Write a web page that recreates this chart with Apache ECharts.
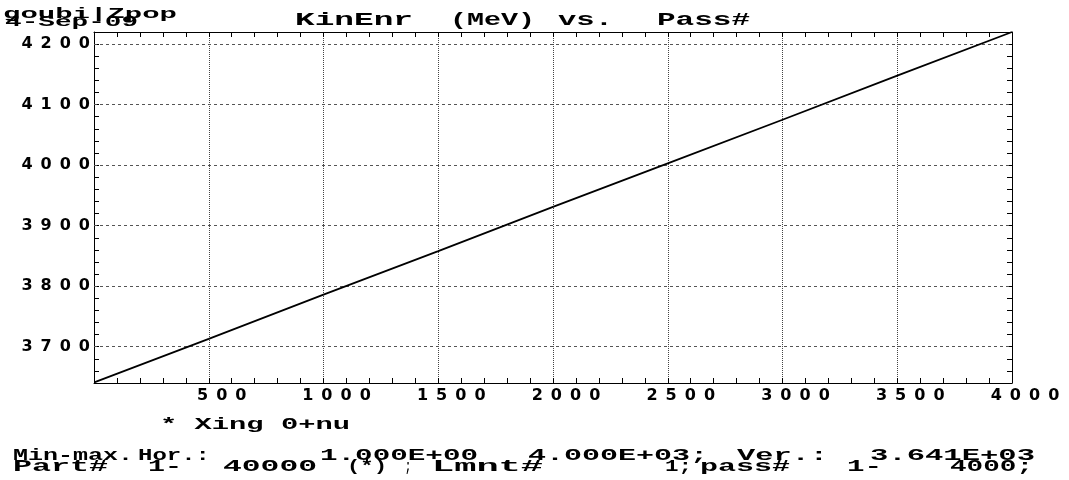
<!DOCTYPE html>
<html>
<head>
<meta charset="utf-8">
<script src="https://cdn.jsdelivr.net/npm/echarts@6/dist/echarts.min.js"></script>
<style>
  html, body { margin: 0; padding: 0; background: #fff; }
  #chart { width: 1069px; height: 480px; }
</style>
</head>
<body>
<div id="chart"></div>
<script>
// pass number vs kinetic energy (MeV)
const passes = [1, 500, 1000, 1500, 2000, 2500, 3000, 3500, 4000];
const kinEnr = [3641, 3713, 3786, 3858, 3931, 4003, 4075, 4148, 4220];
// major horizontal grid values
const yGrid = [3700, 3800, 3900, 4000, 4100, 4200];

const MONO = '"Liberation Mono", "Courier New", monospace';
const GAP = '\u2002';

// spread digits apart, the plot uses a very wide face
function spaced(v) {
    return String(v).split('').join(GAP);
}

// measure text so it can be stretched to the width seen in the plot
let ctx = document.createElement('canvas').getContext('2d');
function wideText(text, x0, x1, yc, size) {
    let font = 'bold ' + size + 'px ' + MONO;
    ctx.font = font;
    let w = ctx.measureText(text).width;
    return {
        type: 'text',
        x: x0,
        y: yc,
        scaleX: (x1 - x0) / w,
        silent: true,
        style: {
            text: text,
            font: font,
            fill: '#000',
            textAlign: 'left',
            textVerticalAlign: 'middle'
        }
    };
}

let notes = [
    ['goubi|Zpop', 3, 177, 14, 15],
    ['4-Sep-09', 5, 138, 22, 15],
    ['KinEnr', 295, 413, 20, 19],
    ['(MeV)', 450, 535, 20, 19],
    ['vs.', 558, 613, 20, 19],
    ['Pass#', 657, 750, 20, 19],
    ['* Xing 0+nu', 160, 350, 425, 16],
    ['Min-max.', 13, 133, 456, 16],
    ['Hor.:', 138, 210, 456, 16],
    ['1.000E+00', 320, 478, 456, 16],
    ['4.000E+03;', 528, 708, 456, 16],
    ['Ver.:', 737, 828, 456, 16],
    ['3.641E+03', 870, 1035, 456, 16],
    ['Part#', 13, 108, 467, 16],
    ['1-', 148, 182, 467, 16],
    ['40000', 223, 317, 467, 16],
    ['(*)', 347, 387, 467, 16],
    [';', 405, 411, 467, 16],
    ['Lmnt#', 432, 543, 467, 16],
    ['1;', 665, 692, 467, 16],
    ['pass#', 700, 790, 467, 16],
    ['1-', 847, 882, 467, 16],
    ['4000;', 950, 1033, 467, 16]
];

let tickStyle = {show: true, inside: true, length: 5, lineStyle: {color: '#000', width: 1}};
let minorStyle = {show: true, splitNumber: 5, length: 5, lineStyle: {color: '#000', width: 1}};
let axisLine = {show: true, onZero: false, lineStyle: {color: '#000', width: 1}};
let labelFont = {fontFamily: '"DejaVu Sans", sans-serif', fontWeight: 'bold', fontSize: 16, color: '#000'};

let chart = echarts.init(document.getElementById('chart'), null, {renderer: 'canvas'});

let option = {
    animation: false,
    backgroundColor: '#fff',
    grid: {left: 94, right: 57, top: 32, bottom: 97, containLabel: false},
    xAxis: [{
        type: 'value',
        position: 'bottom',
        min: 0,
        max: 4000,
        interval: 500,
        axisLine: axisLine,
        axisTick: tickStyle,
        minorTick: minorStyle,
        axisLabel: Object.assign({
            margin: 5,
            padding: [0, 0, 0, 26],
            formatter: v => v === 0 ? '' : spaced(v)
        }, labelFont),
        splitLine: {show: true, lineStyle: {color: '#444', type: [1, 1], width: 1}}
    }, {
        type: 'value',
        position: 'top',
        min: 0,
        max: 4000,
        interval: 500,
        axisLine: axisLine,
        axisTick: tickStyle,
        minorTick: minorStyle,
        axisLabel: {show: false},
        splitLine: {show: false}
    }],
    yAxis: [{
        type: 'value',
        position: 'left',
        min: 3640,
        max: 4220,
        interval: 20,
        axisLine: axisLine,
        axisTick: tickStyle,
        axisLabel: Object.assign({
            margin: 4,
            formatter: v => v % 100 === 0 ? spaced(v) : ''
        }, labelFont),
        splitLine: {show: false}
    }, {
        type: 'value',
        position: 'right',
        min: 3640,
        max: 4220,
        interval: 20,
        axisLine: axisLine,
        axisTick: tickStyle,
        axisLabel: {show: false},
        splitLine: {show: false}
    }],
    graphic: notes.map(n => wideText(n[0], n[1], n[2], n[3], n[4])),
    series: [{
        type: 'line',
        xAxisIndex: 0,
        yAxisIndex: 0,
        data: passes.map((p, i) => [p, kinEnr[i]]),
        showSymbol: false,
        symbol: 'none',
        lineStyle: {color: '#000', width: 1.8},
        z: 5,
        markLine: {
            silent: true,
            symbol: 'none',
            label: {show: false},
            lineStyle: {color: '#555', type: [3, 3], width: 1},
            data: yGrid.map(v => ({yAxis: v}))
        }
    }]
};

chart.setOption(option);
</script>
</body>
</html>
